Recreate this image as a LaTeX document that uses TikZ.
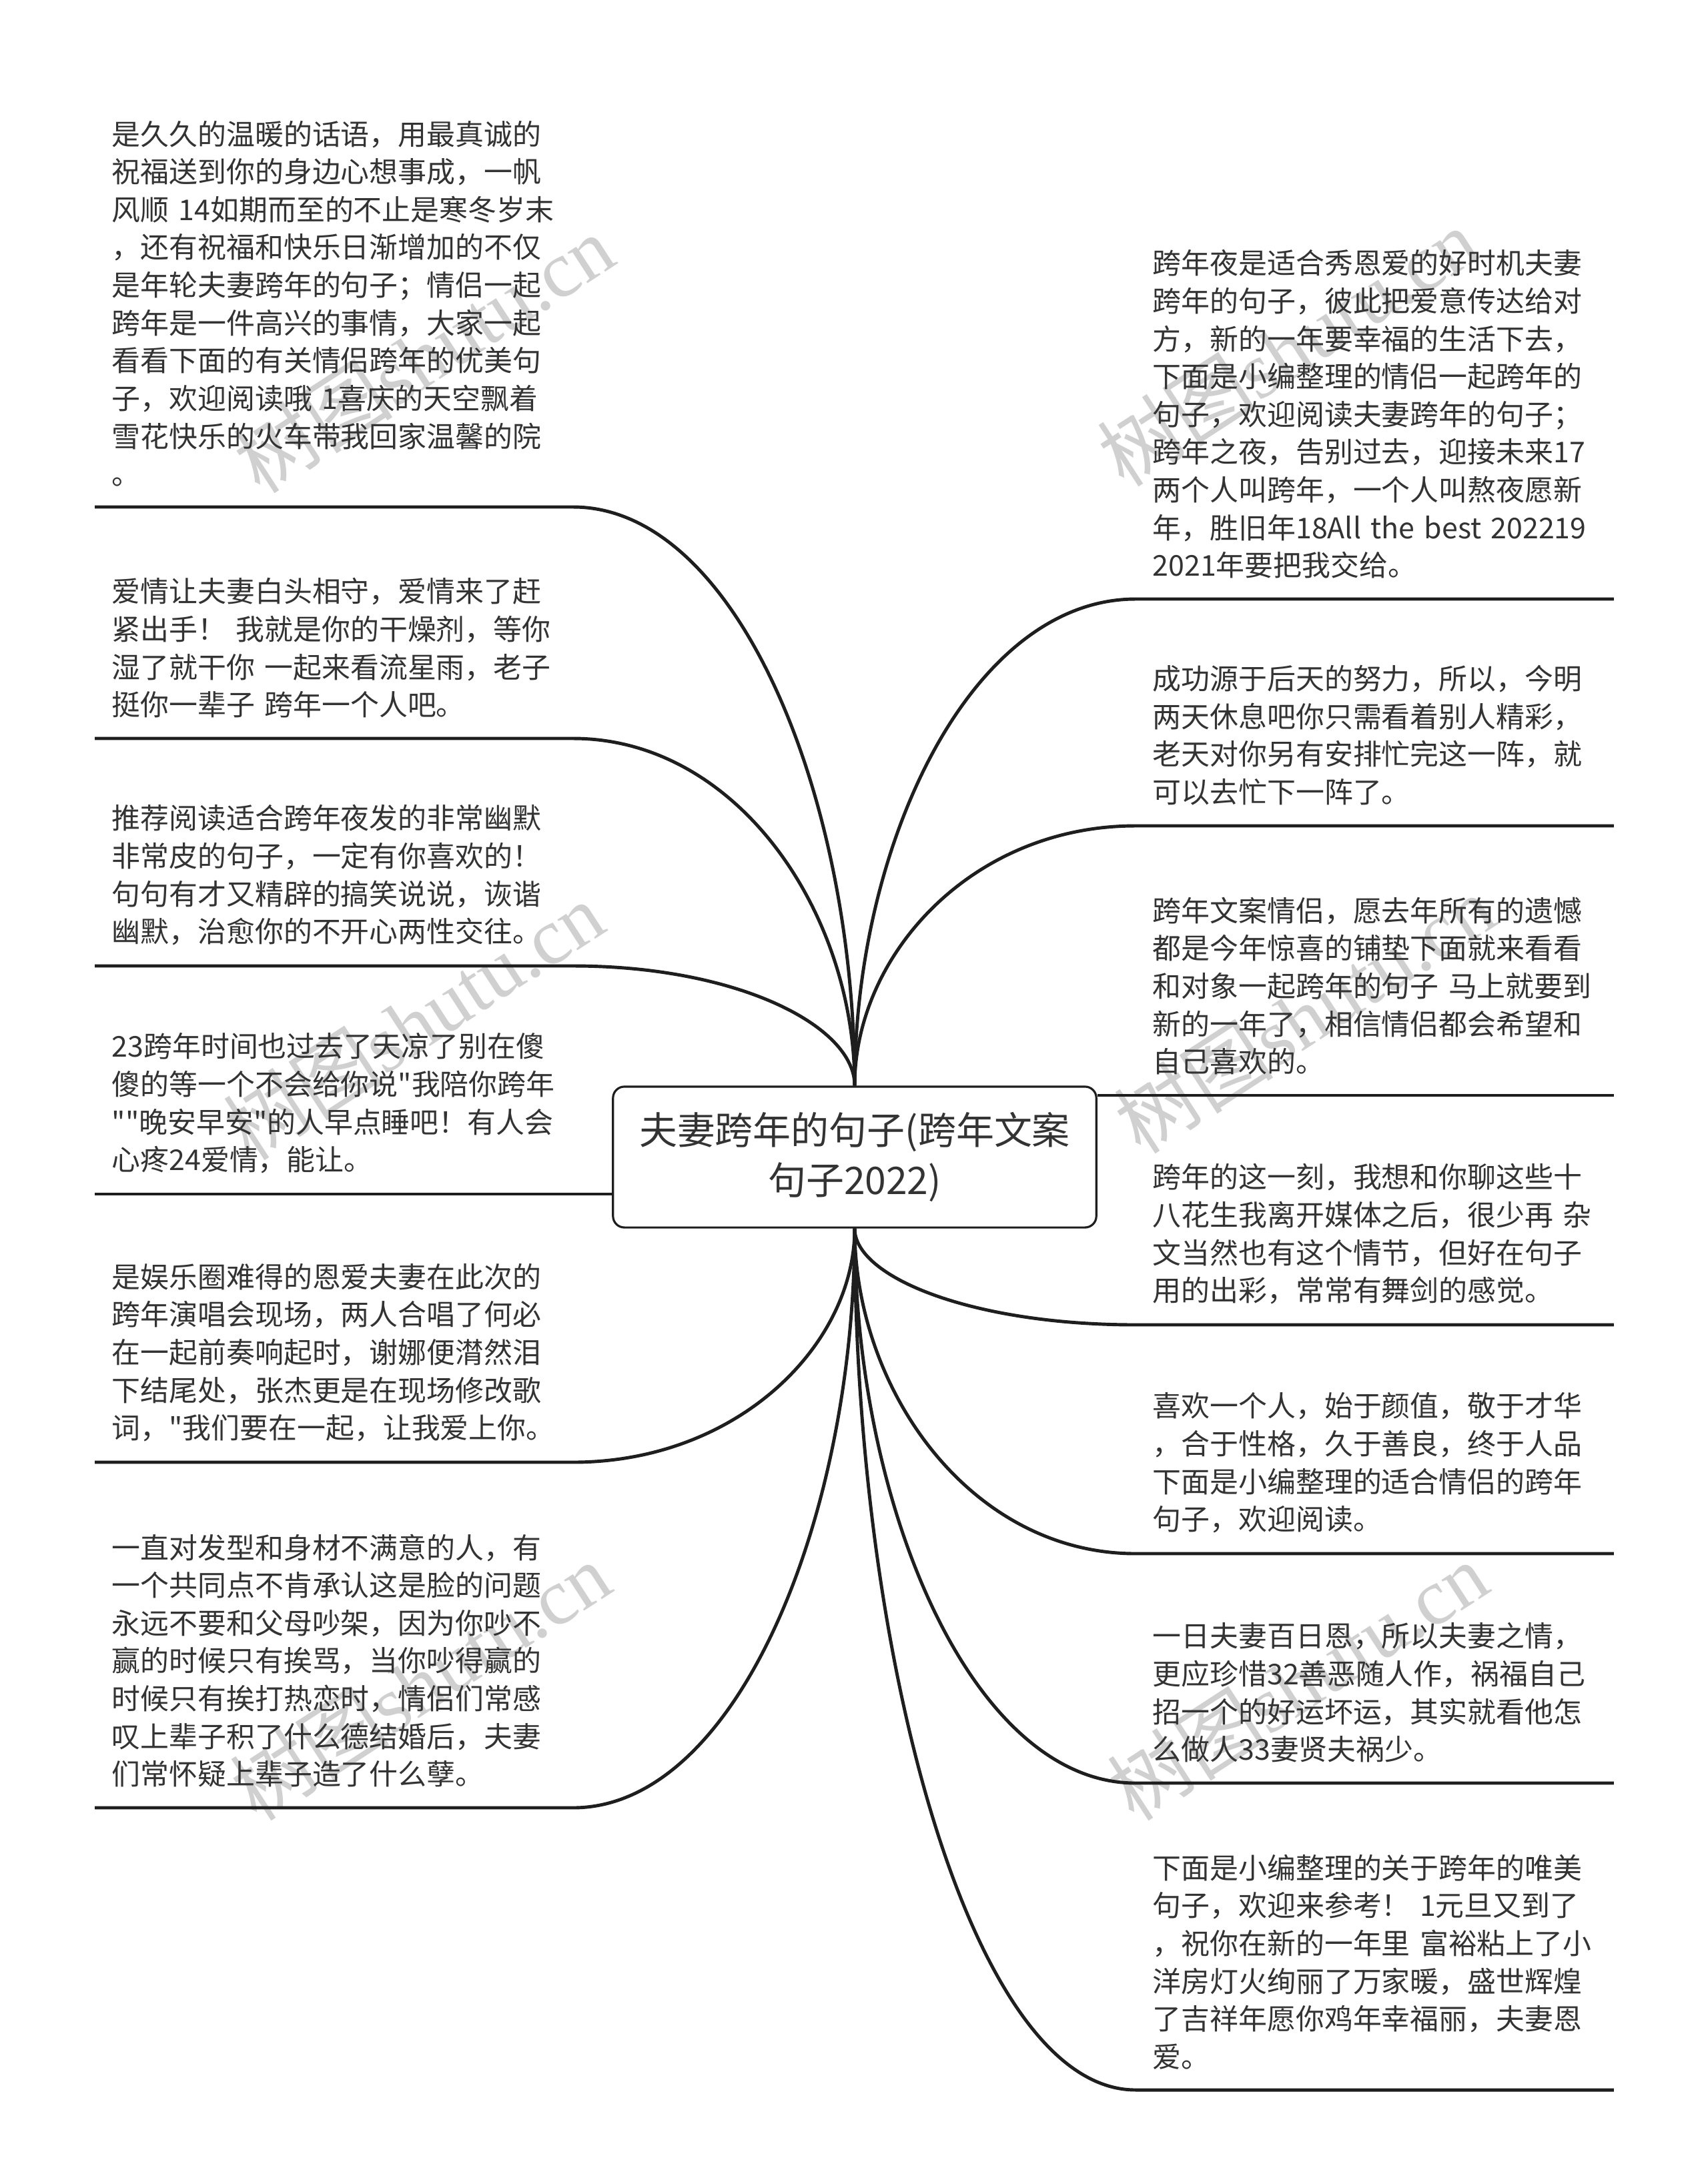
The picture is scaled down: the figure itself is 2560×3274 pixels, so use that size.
\documentclass[tikz,border=0pt]{standalone}
\usepackage{fontspec}
\setmainfont{Noto Sans CJK SC}[Ligatures=TeXOff]
\newfontfamily\wmlatin{Liberation Serif}
\usepackage{tikz}
\definecolor{ink}{HTML}{333333}
\definecolor{stroke}{HTML}{1E1E1E}
\definecolor{wmgray}{HTML}{D0D0D0}

\begin{document}
\begin{tikzpicture}[
    x=0.01cm, y=-0.01cm,
    node font=\fontsize{12.2pt}{16.1pt}\selectfont,
    item/.style={anchor=south west,text width=6.65cm,align=left,inner xsep=0.25cm,inner ysep=0.3cm,text=ink},
    root/.style={draw=stroke,rounded corners=0.17cm,fill=white,line width=0.9pt,minimum width=7.24cm,minimum height=2.11cm,align=center,text=ink,font=\fontsize{16.2pt}{21.4pt}\selectfont},
    stem/.style={draw=stroke,line width=1.4pt},
    wm/.style={text=wmgray,rotate=33,font=\fontsize{34pt}{34pt}\selectfont}
]
\useasboundingbox[fill=white] (0,0) rectangle (2560,3274);

\node[wm] (wm1) at (635,530) {树图{\wmlatin shutu.cn}};
\node[wm] (wm2) at (620,1530) {树图{\wmlatin shutu.cn}};
\node[wm] (wm3) at (630,2520) {树图{\wmlatin shutu.cn}};
\node[wm] (wm4) at (1930,520) {树图{\wmlatin shutu.cn}};
\node[wm] (wm5) at (1955,1520) {树图{\wmlatin shutu.cn}};
\node[wm] (wm6) at (1945,2520) {树图{\wmlatin shutu.cn}};

\node[root] (root) at (1281,1734.5) {夫妻跨年的句子(跨年文案\\句子2022)};

\node[item] (l1) at (142,760) {是久久的温暖的话语，用最真诚的\\祝福送到你的身边心想事成，一帆\\风顺~14如期而至的不止是寒冬岁末\\，还有祝福和快乐日渐增加的不仅\\是年轮夫妻跨年的句子；情侣一起\\跨年是一件高兴的事情，大家一起\\看看下面的有关情侣跨年的优美句\\子，欢迎阅读哦~1喜庆的天空飘着\\雪花快乐的火车带我回家温馨的院\\。};
\node[item] (l2) at (142,1107) {爱情让夫妻白头相守，爱情来了赶\\紧出手！~我就是你的干燥剂，等你\\湿了就干你~一起来看流星雨，老子\\挺你一辈子~跨年一个人吧。};
\node[item] (l3) at (142,1448) {推荐阅读适合跨年夜发的非常幽默\\非常皮的句子，一定有你喜欢的！\\句句有才又精辟的搞笑说说，诙谐\\幽默，治愈你的不开心两性交往。};
\node[item] (l4) at (142,1790) {23跨年时间也过去了天凉了别在傻\\傻的等一个不会给你说"我陪你跨年\\""晚安早安"的人早点睡吧！有人会\\心疼24爱情，能让。};
\node[item] (l5) at (142,2192) {是娱乐圈难得的恩爱夫妻在此次的\\跨年演唱会现场，两人合唱了何必\\在一起前奏响起时，谢娜便潸然泪\\下结尾处，张杰更是在现场修改歌\\词，"我们要在一起，让我爱上你。};
\node[item] (l6) at (142,2710) {一直对发型和身材不满意的人，有\\一个共同点不肯承认这是脸的问题\\永远不要和父母吵架，因为你吵不\\赢的时候只有挨骂，当你吵得赢的\\时候只有挨打热恋时，情侣们常感\\叹上辈子积了什么德结婚后，夫妻\\们常怀疑上辈子造了什么孽。};

\node[item] (r1) at (1702,898) {跨年夜是适合秀恩爱的好时机夫妻\\跨年的句子，彼此把爱意传达给对\\方，新的一年要幸福的生活下去，\\下面是小编整理的情侣一起跨年的\\句子，欢迎阅读夫妻跨年的句子；\\跨年之夜，告别过去，迎接未来17\\两个人叫跨年，一个人叫熬夜愿新\\年，胜旧年18All~the~best~202219\\2021年要把我交给。};
\node[item] (r2) at (1702,1238) {成功源于后天的努力，所以，今明\\两天休息吧你只需看着别人精彩，\\老天对你另有安排忙完这一阵，就\\可以去忙下一阵了。};
\node[item] (r3) at (1702,1642) {跨年文案情侣，愿去年所有的遗憾\\都是今年惊喜的铺垫下面就来看看\\和对象一起跨年的句子~马上就要到\\新的一年了，相信情侣都会希望和\\自己喜欢的。};
\node[item] (r4) at (1702,1986) {跨年的这一刻，我想和你聊这些十\\八花生我离开媒体之后，很少再~杂\\文当然也有这个情节，但好在句子\\用的出彩，常常有舞剑的感觉。};
\node[item] (r5) at (1702,2329) {喜欢一个人，始于颜值，敬于才华\\，合于性格，久于善良，终于人品\\下面是小编整理的适合情侣的跨年\\句子，欢迎阅读。};
\node[item] (r6) at (1702,2673) {一日夫妻百日恩，所以夫妻之情，\\更应珍惜32善恶随人作，祸福自己\\招一个的好运坏运，其实就看他怎\\么做人33妻贤夫祸少。};
\node[item] (r7) at (1702,3133) {下面是小编整理的关于跨年的唯美\\句子，欢迎来参考！~1元旦又到了\\，祝你在新的一年里~富裕粘上了小\\洋房灯火绚丽了万家暖，盛世辉煌\\了吉祥年愿你鸡年幸福丽，夫妻恩\\爱。};

\draw[stem] (root.north) .. controls +(0,-435) and +(245,0) .. (l1.south east) -- (l1.south west);
\draw[stem] (root.north) .. controls +(0,-261) and +(245,0) .. (l2.south east) -- (l2.south west);
\draw[stem] (root.north) .. controls +(0,-90) and +(245,0) .. (l3.south east) -- (l3.south west);
\draw[stem] (root.west |- l4.south) -- (l4.south west);
\draw[stem] (root.south) .. controls +(0,176) and +(245,0) .. (l5.south east) -- (l5.south west);
\draw[stem] (root.south) .. controls +(0,435) and +(245,0) .. (l6.south east) -- (l6.south west);

\draw[stem] (root.north) .. controls +(0,-366) and +(-245,0) .. (r1.south west) -- (r1.south east);
\draw[stem] (root.north) .. controls +(0,-196) and +(-245,0) .. (r2.south west) -- (r2.south east);
\draw[stem] (root.east |- r3.south) -- (r3.south east);
\draw[stem] (root.south) .. controls +(0,73) and +(-245,0) .. (r4.south west) -- (r4.south east);
\draw[stem] (root.south) .. controls +(0,245) and +(-245,0) .. (r5.south west) -- (r5.south east);
\draw[stem] (root.south) .. controls +(0,417) and +(-245,0) .. (r6.south west) -- (r6.south east);
\draw[stem] (root.south) .. controls +(0,647) and +(-245,0) .. (r7.south west) -- (r7.south east);
\end{tikzpicture}
\end{document}
